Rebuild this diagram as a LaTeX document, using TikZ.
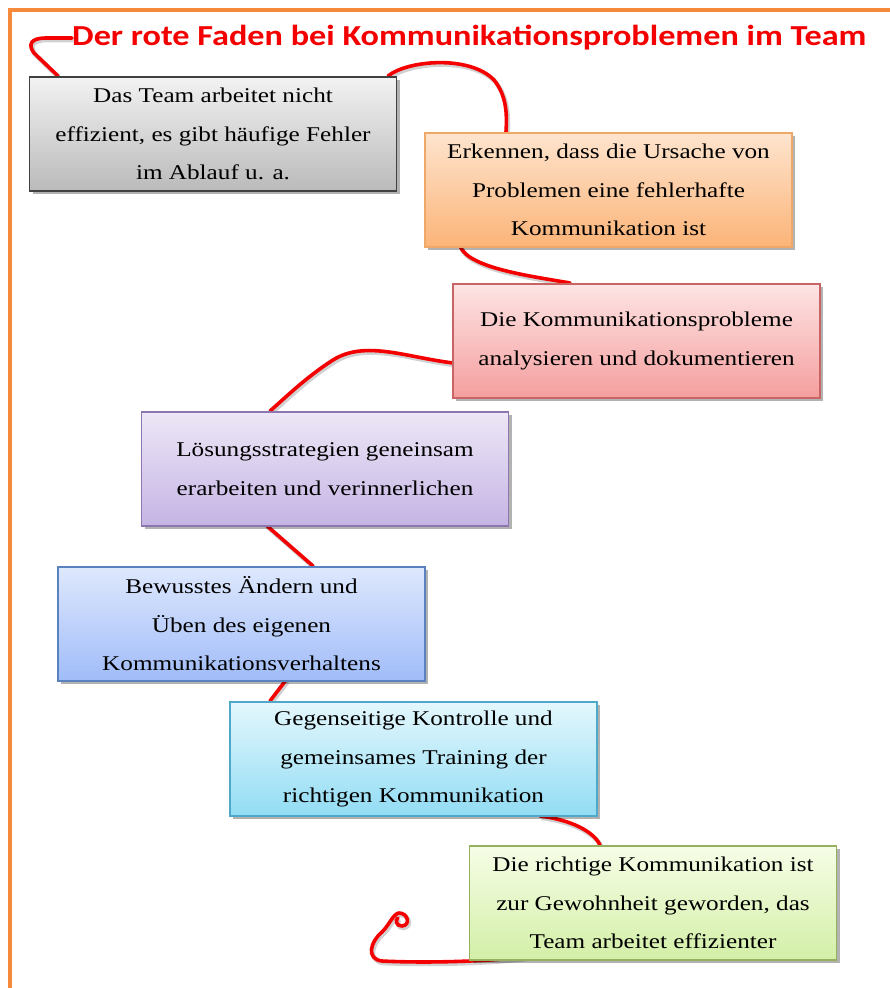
\documentclass[tikz,border=0pt]{standalone}
\usepackage{fontspec}
\setmainfont{Liberation Serif}[FakeStretch=1.2]
\newfontfamily\titlefont{Carlito Bold}[FakeStretch=1.18]
\usetikzlibrary{shadows,calc}
\definecolor{frameorange}{HTML}{F58A3C}
\definecolor{thread}{HTML}{F40000}
\tikzset{
  box/.style={draw, line width=1.3pt, minimum width=367pt, minimum height=114pt,
    align=center, inner sep=0pt, font=\fontsize{21}{38.5}\selectfont,
    drop shadow={shadow xshift=3pt, shadow yshift=-3pt, opacity=0.3, fill=black}},
  redline/.style={line width=3.6pt, draw=thread, line cap=round,
    preaction={draw=black, opacity=0.18, line width=4.5pt, transform canvas={xshift=1.5pt,yshift=-2pt}}},
}
\begin{document}
\begin{tikzpicture}[x=1pt,y=-1pt]
\useasboundingbox (0,0) rectangle (890,988);
\fill[white] (0,0) rectangle (890,988);
% frame
\draw[frameorange, line width=3.2pt] (10,990) -- (10,10) -- (892,10);

% title
\node[anchor=west, inner sep=0pt, text=thread, font=\titlefont\fontsize{29}{32}\selectfont] (title) at (72,38) {Der rote Faden bei Kommunikationsproblemen im Team};

% red thread (behind boxes)
\draw[redline] (title.west) -- (46,38) .. controls (30,38) and (28,45) .. (34,53) -- (58,76);
\draw[redline] (388,76) .. controls (408,60) and (470,55) .. (494,80) .. controls (507,96) and (507,115) .. (506,132);
\draw[redline] (460,246) .. controls (468,268) and (530,276) .. (570,283);
\draw[redline] (453,363) .. controls (405,357) and (365,340) .. (333,360) .. controls (305,378) and (285,398) .. (270,411);
\draw[redline] (266,525) -- (313,566);
\draw[redline] (286,680) -- (270,701);
\draw[redline] (540,816) .. controls (572,820) and (594,832) .. (600,845);
\draw[redline] (525,957) .. controls (480,962) and (420,963) .. (382,961) .. controls (366,959) and (370,942) .. (382,932) .. controls (390,924) and (393,914) .. (399,913) .. controls (408,913) and (411,925) .. (402,926) .. controls (396,926) and (395,920) .. (398,918);

% boxes
\node[box, draw=black!75, top color=black!5, bottom color=black!27] (b1) at (213,134)
  {Das Team arbeitet nicht\\effizient, es gibt häufige Fehler\\im Ablauf u. a.};
\node[box, draw={rgb,255:red,240;green,168;blue,104}, top color={rgb,255:red,254;green,228;blue,206}, bottom color={rgb,255:red,251;green,180;blue,120}] (b2) at (608.5,190)
  {Erkennen, dass die Ursache von\\Problemen eine fehlerhafte\\Kommunikation ist};
\node[box, draw={rgb,255:red,200;green,100;blue,100}, top color={rgb,255:red,253;green,228;blue,228}, bottom color={rgb,255:red,245;green,158;blue,158}] (b3) at (636.5,341)
  {Die Kommunikationsprobleme\\analysieren und dokumentieren};
\node[box, draw={rgb,255:red,140;green,118;blue,176}, top color={rgb,255:red,237;green,231;blue,246}, bottom color={rgb,255:red,197;green,180;blue,228}] (b4) at (325,469)
  {Lösungsstrategien geneinsam\\erarbeiten und verinnerlichen};
\node[box, draw={rgb,255:red,90;green,130;blue,190}, top color={rgb,255:red,222;green,232;blue,253}, bottom color={rgb,255:red,160;green,188;blue,248}] (b5) at (241.5,624)
  {Bewusstes Ändern und\\Üben des eigenen\\Kommunikationsverhaltens};
\node[box, draw={rgb,255:red,80;green,168;blue,200}, top color={rgb,255:red,228;green,247;blue,253}, bottom color={rgb,255:red,146;green,220;blue,244}] (b6) at (413.5,759)
  {Gegenseitige Kontrolle und\\gemeinsames Training der\\richtigen Kommunikation};
\node[box, draw={rgb,255:red,150;green,176;blue,96}, top color={rgb,255:red,246;green,253;blue,230}, bottom color={rgb,255:red,211;green,239;blue,167}] (b7) at (653,903)
  {Die richtige Kommunikation ist\\zur Gewohnheit geworden, das\\Team arbeitet effizienter};
\end{tikzpicture}
\end{document}
